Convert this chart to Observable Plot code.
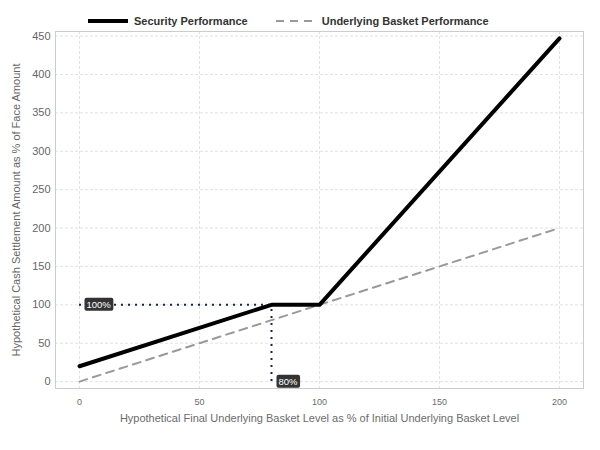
<!DOCTYPE html>
<html>
<head>
<meta charset="utf-8">
<script src="https://cdn.jsdelivr.net/npm/d3@7"></script>
<script src="https://cdn.jsdelivr.net/npm/@observablehq/plot@0.6"></script>
<style>
  body { margin: 0; background: #fff; font-family: "Liberation Sans", Arial, sans-serif; }
  #wrap { position: relative; width: 600px; height: 450px; }
  #legend { position: absolute; top: 15px; left: 88px; display: flex; align-items: center; font-weight: bold; font-size: 11px; color: #333; }
  #legend .item { display: flex; align-items: center; margin-right: 28px; }
  #legend svg { margin-right: 6px; }
  [aria-label="x-axis label"] { font-size: 11px; }
</style>
</head>
<body>
<div id="wrap">
  <div id="legend"></div>
</div>
<script>
// Data
const basketLevels = [0, 80, 100, 200];
const securityValues = [20, 100, 100, 447];
const basketValues = [0, 80, 100, 200];
const xTicks = [0, 50, 100, 150, 200];
const yTicks = [0, 50, 100, 150, 200, 250, 300, 350, 400, 450];
const barrierLevel = [80];
const capLevel = [100];
const capLabel = ["100%"];
const barrierLabel = ["80%"];
const seriesNames = ["Security Performance", "Underlying Basket Performance"];

const security = basketLevels.map((x, i) => ({x, y: securityValues[i]}));
const basket = basketLevels.map((x, i) => ({x, y: basketValues[i]}));

const chart = Plot.plot({
  width: 600,
  height: 450,
  marginLeft: 55,
  marginRight: 17,
  marginTop: 31,
  marginBottom: 62,
  style: {fontFamily: "Liberation Sans, Arial, sans-serif", background: "#fff"},
  x: {domain: [-10, 210]},
  y: {domain: [-9, 456]},
  marks: [
    Plot.gridX(xTicks, {stroke: "#e2e2e2", strokeOpacity: 1, strokeDasharray: "3,2"}),
    Plot.gridY(yTicks, {stroke: "#e2e2e2", strokeOpacity: 1, strokeDasharray: "3,2"}),
    Plot.frame({stroke: "#cccccc"}),
    Plot.axisX(xTicks, {tickSize: 0, tickPadding: 10, fontSize: 9, color: "#6b6b6b",
      label: "Hypothetical Final Underlying Basket Level as % of Initial Underlying Basket Level",
      labelAnchor: "center", labelArrow: "none", labelOffset: 33}),
    Plot.axisY(yTicks, {tickSize: 0, tickPadding: 5, fontSize: 11, color: "#666",
      label: "Hypothetical Cash Settlement Amount as % of Face Amount",
      labelAnchor: "center", labelArrow: "none", labelOffset: 43}),
    Plot.ruleY(capLevel, {x1: 0, x2: barrierLevel[0], stroke: "#1c2340", strokeWidth: 2, strokeDasharray: "2,5"}),
    Plot.ruleX(barrierLevel, {y1: 0, y2: capLevel[0], stroke: "#1c2340", strokeWidth: 2, strokeDasharray: "2,5"}),
    Plot.line(basket, {x: "x", y: "y", stroke: "#999", strokeWidth: 2, strokeDasharray: "8,6"}),
    Plot.line(security, {x: "x", y: "y", stroke: "#000", strokeWidth: 4, strokeLinejoin: "round"}),
    Plot.text(capLabel, {x: 0, y: capLevel[0], text: d => d, textAnchor: "start", dx: 7, fill: "#fff", fontSize: 9.5, className: "boxlabel"}),
    Plot.text(barrierLabel, {x: barrierLevel[0], y: 0, text: d => d, textAnchor: "start", dx: 7, fill: "#fff", fontSize: 9.5, className: "boxlabel"})
  ]
});

document.getElementById("wrap").appendChild(chart);

// Box behind labels
chart.querySelectorAll(".boxlabel text").forEach(t => {
  const b = t.getBBox();
  const r = document.createElementNS("http://www.w3.org/2000/svg", "rect");
  r.setAttribute("x", b.x - 2);
  r.setAttribute("y", b.y - 1);
  r.setAttribute("width", b.width + 4);
  r.setAttribute("height", b.height + 2);
  r.setAttribute("rx", 2);
  r.setAttribute("fill", "#333");
  const tr = t.getAttribute("transform");
  if (tr) r.setAttribute("transform", tr);
  t.parentNode.insertBefore(r, t);
});

// Legend
const legend = document.getElementById("legend");
const styles = [
  {stroke: "#000", width: 4, dash: null},
  {stroke: "#999", width: 2, dash: "8,6"}
];
seriesNames.forEach((name, i) => {
  const s = styles[i];
  const item = document.createElement("div");
  item.className = "item";
  item.innerHTML = `<svg width="40" height="10"><line x1="0" x2="40" y1="5" y2="5" stroke="${s.stroke}" stroke-width="${s.width}" ${s.dash ? `stroke-dasharray="${s.dash}"` : ""}/></svg><span>${name}</span>`;
  legend.appendChild(item);
});
</script>
</body>
</html>
